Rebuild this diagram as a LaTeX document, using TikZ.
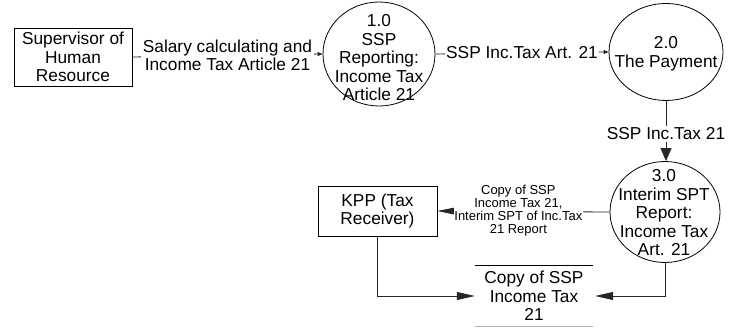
\documentclass[tikz,border=0pt]{standalone}
\usepackage{fontspec}
\setmainfont{Liberation Sans}
\usetikzlibrary{shapes.geometric,arrows.meta}

\tikzset{
  base/.style={font=\fontsize{17.3}{18.5}\selectfont, align=center},
  entity/.style={base, draw, line width=0.8pt, inner sep=0pt},
  process/.style={draw, ellipse, line width=0.8pt, inner sep=0pt},
  ptext/.style={base, inner sep=0pt},
  flow/.style={line width=0.8pt, draw=black!85},
  smalltip/.style={flow, -{Triangle[length=5pt,width=4pt]}},
  bigtip/.style={flow, -{Triangle[length=18pt,width=8pt]}},
  vtip/.style={flow, -{Triangle[length=13pt,width=11pt]}},
  flowlabel/.style={base, fill=white, inner sep=1.5pt},
  smalllabel/.style={font=\fontsize{13}{13}\selectfont, align=center, fill=white, inner sep=0.5pt},
}

\begin{document}
\begin{tikzpicture}[x=1pt,y=-1pt]
\useasboundingbox (0,0) rectangle (738,328);

% external entities
\node[entity, minimum width=118pt, minimum height=58pt] (sup) at (73,57)
  {Supervisor of\\Human\\Resource};
\node[entity, minimum width=119pt, minimum height=50pt] (kpp) at (377.5,211)
  {KPP (Tax\\Receiver)};

% processes
\node[process, minimum width=112pt, minimum height=104pt] (c1) at (379,54) {};
\node[ptext] (c1t) at (379,58) {1.0\\SSP\\Reporting:\\Income Tax\\Article 21};

\node[process, minimum width=114pt, minimum height=97pt] (c2) at (666,52) {};
\node[ptext] (c2t) at (666,54) {2.0\\The Payment};

\node[process, minimum width=110pt, minimum height=101pt] (c3) at (665,212) {};
\node[ptext] (c3t) at (664,213) {3.0\\Interim SPT\\Report:\\Income Tax\\Art. 21};

% data store
\node[ptext, minimum width=118pt, minimum height=60pt] (store) at (534,296)
  {Copy of SSP\\Income Tax\\21};
\draw[line width=0.8pt] (store.north west) -- (store.north east);
\draw[line width=0.8pt, black!30] (store.south west) -- (store.south east);

% data flows
\draw[smalltip] (sup.east) -- node[flowlabel] (l1)
  {Salary calculating and\\Income Tax Article 21} (c1.west);
\draw[smalltip] (c1.east) -- node[flowlabel] (l2) {SSP Inc.Tax Art. 21} (c2.west);
\draw[vtip] (c2.south) -- node[flowlabel, pos=0.55] (l3) {SSP Inc.Tax 21} (c2.south |- c3.north);
\draw[flow, -{Triangle[length=20pt,width=8pt]}] (c3.west) -- node[smalllabel, pos=0.53, yshift=1pt] (l4)
  {Copy of SSP\\Income Tax 21,\\Interim SPT of Inc.Tax\\21 Report} (kpp.east);
\draw[bigtip] (kpp.south) |- (store.west);
\draw[bigtip] (c3.south) |- ([xshift=2pt]store.east);
\end{tikzpicture}
\end{document}
